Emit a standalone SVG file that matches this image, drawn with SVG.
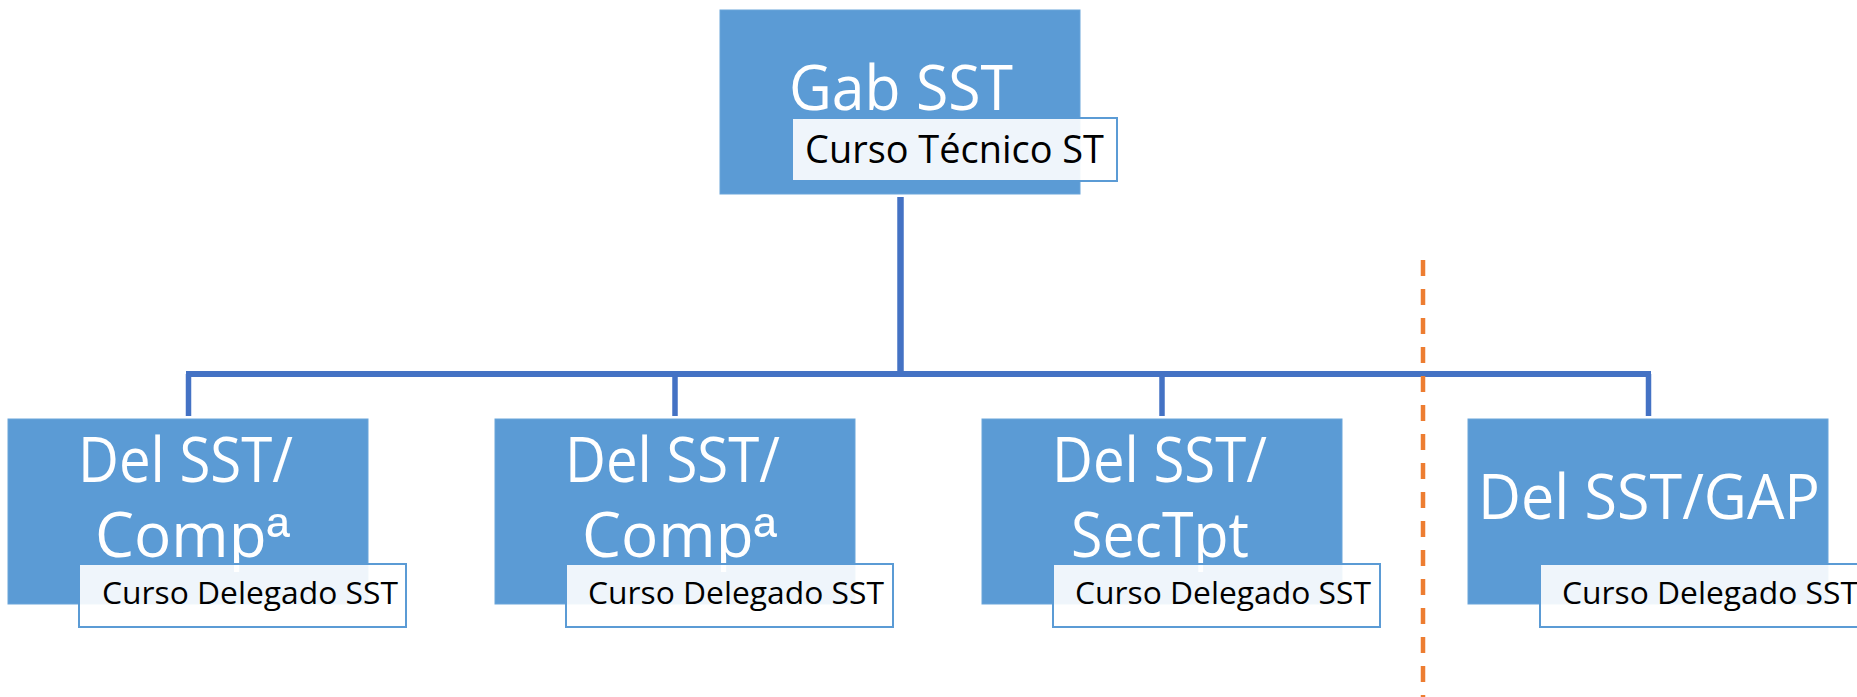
<svg xmlns="http://www.w3.org/2000/svg" width="1857" height="697" viewBox="0 0 1857 697">
<style>
.box{fill:#5B9BD5;stroke:#6AA5DA;stroke-width:1}
.sub{fill:#FFFFFF;fill-opacity:0.9;stroke:#5B9BD5;stroke-width:2}
.big{font-family:"Open Sans","Noto Sans","Liberation Sans",sans-serif;font-size:62px;fill:#FFFFFF}
.small{font-family:"Open Sans","Noto Sans","Liberation Sans",sans-serif;fill:#000000}
.ord{font-family:"Liberation Sans",sans-serif}
.conn{stroke:#4472C4;fill:none}
</style>
<rect width="1857" height="697" fill="#FFFFFF"/>
<g id="connectors">
<line class="conn" x1="900.5" y1="197" x2="900.5" y2="377" stroke-width="6.5"/>
<line class="conn" x1="186" y1="374" x2="1651" y2="374" stroke-width="6"/>
<line class="conn" x1="188.5" y1="374" x2="188.5" y2="416" stroke-width="5.5"/>
<line class="conn" x1="675" y1="374" x2="675" y2="416" stroke-width="5.5"/>
<line class="conn" x1="1162" y1="374" x2="1162" y2="416" stroke-width="5.5"/>
<line class="conn" x1="1648.5" y1="374" x2="1648.5" y2="416" stroke-width="5.5"/>
</g>
<line id="divider" x1="1423" y1="260" x2="1423" y2="697" stroke="#ED7D31" stroke-width="4.5" stroke-dasharray="16 13"/>
<g id="gab">
<rect class="box" x="720" y="10" width="360" height="184"/>
<text class="big" x="789" y="110" textLength="224" lengthAdjust="spacingAndGlyphs">Gab SST</text>
<rect class="sub" x="792" y="118" width="325" height="63"/>
<text class="small" x="805" y="163" font-size="39" textLength="299" lengthAdjust="spacingAndGlyphs">Curso Técnico ST</text>
</g>
<g id="del1">
<rect class="box" x="8" y="419" width="360" height="185"/>
<text class="big"><tspan x="78" y="482" textLength="215" lengthAdjust="spacingAndGlyphs">Del SST/</tspan><tspan x="95" y="557">Comp<tspan class="ord">ª</tspan></tspan></text>
<rect class="sub" x="79" y="564" width="327" height="63"/>
<text class="small" x="102" y="604" font-size="31" textLength="296" lengthAdjust="spacingAndGlyphs">Curso Delegado SST</text>
</g>
<g id="del2">
<rect class="box" x="495" y="419" width="360" height="185"/>
<text class="big"><tspan x="565" y="482" textLength="215" lengthAdjust="spacingAndGlyphs">Del SST/</tspan><tspan x="582" y="557">Comp<tspan class="ord">ª</tspan></tspan></text>
<rect class="sub" x="566" y="564" width="327" height="63"/>
<text class="small" x="588" y="604" font-size="31" textLength="296" lengthAdjust="spacingAndGlyphs">Curso Delegado SST</text>
</g>
<g id="del3">
<rect class="box" x="982" y="419" width="360" height="185"/>
<text class="big"><tspan x="1052" y="482" textLength="215" lengthAdjust="spacingAndGlyphs">Del SST/</tspan><tspan x="1071" y="557" textLength="178" lengthAdjust="spacingAndGlyphs">SecTpt</tspan></text>
<rect class="sub" x="1053" y="564" width="327" height="63"/>
<text class="small" x="1075" y="604" font-size="31" textLength="296" lengthAdjust="spacingAndGlyphs">Curso Delegado SST</text>
</g>
<g id="del4">
<rect class="box" x="1468" y="419" width="360" height="185"/>
<text class="big" x="1478" y="519" textLength="342" lengthAdjust="spacingAndGlyphs">Del SST/GAP</text>
<rect class="sub" x="1540" y="564" width="327" height="63"/>
<text class="small" x="1562" y="604" font-size="31" textLength="296" lengthAdjust="spacingAndGlyphs">Curso Delegado SST</text>
</g>
</svg>
